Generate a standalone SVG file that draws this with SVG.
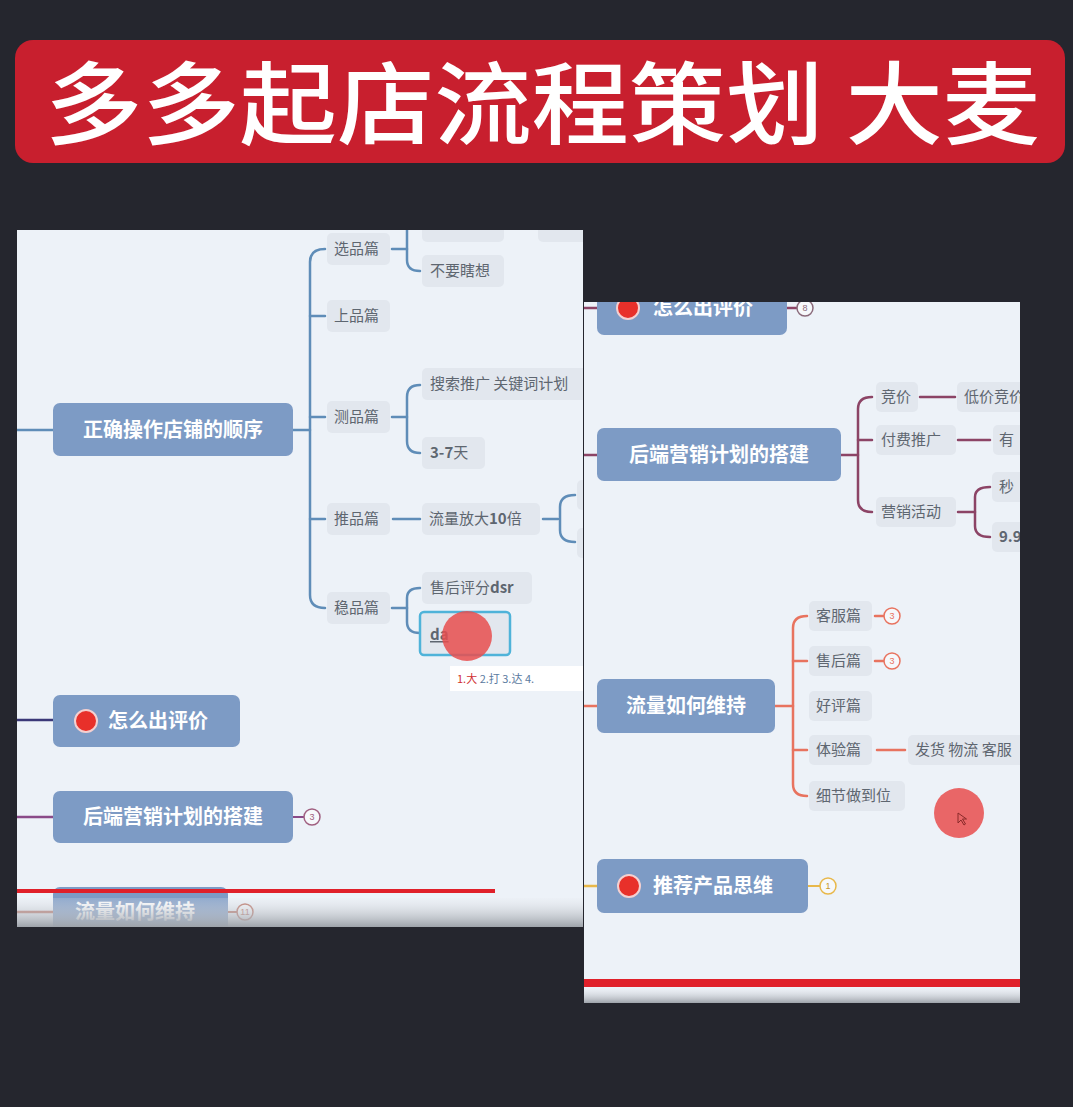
<svg xmlns="http://www.w3.org/2000/svg" width="1073" height="1107" viewBox="0 0 1073 1107">
<defs>
<style>
.bg{fill:#25262e}
.panel{fill:#edf2f8}
.node{fill:#7d9bc5}
.ntext{font-family:"Noto Sans CJK SC","Noto Sans",sans-serif;font-size:20px;font-weight:bold;fill:#ffffff}
.sub{fill:#e2e7ee}
.stext{font-family:"Noto Sans CJK SC","Noto Sans",sans-serif;font-size:15px;fill:#5e6670}
.cb{fill:none;stroke:#5f8db8;stroke-width:2.5;stroke-linecap:round}
.cm{fill:none;stroke:#8c4466;stroke-width:2.5;stroke-linecap:round}
.cs{fill:none;stroke:#e8735f;stroke-width:2.5;stroke-linecap:round}
.dot{fill:#e8302a;stroke:#f4d0d0;stroke-width:2}
.badge{fill:#f6f8fb;stroke-width:1.5}
.btext{font-family:"Liberation Sans",sans-serif;font-size:9px;text-anchor:middle}
</style>
<clipPath id="clipL"><rect x="17" y="230" width="566" height="697"/></clipPath>
<clipPath id="clipR"><rect x="584" y="302" width="436" height="701"/></clipPath>
<linearGradient id="strip" x1="0" y1="0" x2="0" y2="1">
<stop offset="0" stop-color="#e6e9ee" stop-opacity="0.2"/>
<stop offset="1" stop-color="#9ea3aa"/>
</linearGradient>
</defs>
<rect class="bg" x="0" y="0" width="1073" height="1107"/>

<g id="title">
<rect x="15" y="40" width="1050" height="123" rx="18" fill="#c81f2e"/>
<text x="45" y="137" font-family="Noto Sans CJK SC,Noto Sans,sans-serif" font-size="90" font-weight="500" fill="#ffffff" textLength="995" lengthAdjust="spacingAndGlyphs">多多起店流程策划 大麦</text>
</g>

<g id="left-panel" clip-path="url(#clipL)">
<rect class="panel" x="17" y="230" width="566" height="697"/>
<g id="left-connectors">
<path class="cb" d="M17 430 H53"/>
<path class="cb" d="M293 430 H310"/>
<path class="cb" d="M325 249 Q310 249 310 262 V595 Q310 608 325 608"/>
<path class="cb" d="M310 316 Q312 316 325 316"/>
<path class="cb" d="M310 417 H325"/>
<path class="cb" d="M310 519 H325"/>
<path class="cb" d="M392 249 H407"/>
<path class="cb" d="M407 225 V260 Q407 271 420 271"/>
<path class="cb" d="M392 417 H407"/>
<path class="cb" d="M420 385 Q407 385 407 397 V441 Q407 453 420 453"/>
<path class="cb" d="M393 519 H420"/>
<path class="cb" d="M543 519 H558"/>
<path class="cb" d="M575 495 Q560 495 560 507 V530 Q560 542 575 542"/>
<path class="cb" d="M392 608 H407"/>
<path class="cb" d="M420 588 Q407 588 407 598 V622 Q407 633 420 633"/>
<path d="M17 720 H53" stroke="#3b3878" stroke-width="2.5"/>
<path d="M17 817 H53" stroke="#8a4a88" stroke-width="2.5"/>
<path d="M293 817 H304" stroke="#8a4a88" stroke-width="2"/>
<path d="M17 912 H53" stroke="#b86a5a" stroke-width="2.5"/>
<path d="M228 912 H237" stroke="#b86a5a" stroke-width="2"/>
</g>
<g id="n-order"><rect class="node" x="53" y="403" width="240" height="53" rx="7"/><text class="ntext" x="173" y="437" text-anchor="middle">正确操作店铺的顺序</text></g>
<g id="n-top-cut"><rect class="sub" x="422" y="212" width="82" height="30" rx="5"/><rect class="sub" x="538" y="212" width="50" height="30" rx="5"/></g>
<g id="n-xuanpin"><rect class="sub" x="327" y="233" width="63" height="32" rx="5"/><text class="stext" x="334" y="254">选品篇</text></g>
<g id="n-buyao"><rect class="sub" x="422" y="255" width="82" height="32" rx="5"/><text class="stext" x="430" y="276">不要瞎想</text></g>
<g id="n-shangpin"><rect class="sub" x="327" y="300" width="63" height="32" rx="5"/><text class="stext" x="334" y="321">上品篇</text></g>
<g id="n-cepin"><rect class="sub" x="327" y="401" width="63" height="32" rx="5"/><text class="stext" x="334" y="422">测品篇</text></g>
<g id="n-sousuo"><rect class="sub" x="422" y="368" width="170" height="32" rx="5"/><text class="stext" x="430" y="389">搜索推广 关键词计划</text></g>
<g id="n-37"><rect class="sub" x="422" y="437" width="63" height="32" rx="5"/><text class="stext" x="430" y="458"><tspan font-weight="bold">3-7</tspan>天</text></g>
<g id="n-tuipin"><rect class="sub" x="327" y="503" width="63" height="32" rx="5"/><text class="stext" x="334" y="524">推品篇</text></g>
<g id="n-liuliang10"><rect class="sub" x="422" y="503" width="118" height="32" rx="5"/><text class="stext" x="429" y="524">流量放大<tspan font-weight="bold">10</tspan>倍</text></g>
<g id="n-cut2"><rect class="sub" x="577" y="480" width="30" height="30" rx="5"/><rect class="sub" x="577" y="528" width="30" height="30" rx="5"/></g>
<g id="n-wenpin"><rect class="sub" x="327" y="592" width="63" height="32" rx="5"/><text class="stext" x="334" y="613">稳品篇</text></g>
<g id="n-dsr"><rect class="sub" x="422" y="572" width="110" height="32" rx="5"/><text class="stext" x="430" y="593">售后评分<tspan font-weight="bold">dsr</tspan></text></g>
<g id="n-da"><rect x="420" y="612" width="90" height="43" rx="4" fill="#e2e7ee" stroke="#4fb3d9" stroke-width="2.5"/><text class="stext" x="430" y="640" font-weight="bold" fill="#444" text-decoration="underline">da</text></g>
<g id="cursor1"><circle cx="467" cy="636" r="25" fill="#e84d4d" fill-opacity="0.85"/></g>
<g id="ime"><rect x="450" y="666" width="140" height="25" fill="#ffffff"/><text x="457" y="683" font-family="Noto Sans CJK SC,sans-serif" font-size="11" fill="#5a7aa0"><tspan fill="#d03030">1.大</tspan> 2.打 3.达 4.</text></g>
<g id="n-pingjia"><rect class="node" x="53" y="695" width="187" height="52" rx="7"/><circle class="dot" cx="86" cy="721" r="11"/><text class="ntext" x="108" y="728">怎么出评价</text></g>
<g id="n-houduan"><rect class="node" x="53" y="791" width="240" height="52" rx="7"/><text class="ntext" x="173" y="824" text-anchor="middle">后端营销计划的搭建</text></g>
<g id="b-houduan"><circle class="badge" cx="312" cy="817" r="8" stroke="#a06080"/><text class="btext" x="312" y="820" fill="#a06080">3</text></g>
<g id="n-weichi-l"><rect class="node" x="53" y="887" width="175" height="52" rx="7"/><text class="ntext" x="75" y="919">流量如何维持</text></g>
<g id="b-weichi-l"><circle class="badge" cx="245" cy="912" r="8" stroke="#b86a5a"/><text class="btext" x="245" y="915" fill="#b86a5a">11</text></g>
<rect x="17" y="898" width="566" height="29" fill="url(#strip)"/>
<path d="M17 891 H495" stroke="#e0202a" stroke-width="4"/>
</g>

<g id="right-panel" clip-path="url(#clipR)">
<rect class="panel" x="584" y="302" width="436" height="701"/>
<g id="right-connectors">
<path class="cm" d="M584 308 H597"/>
<path class="cm" d="M787 308 H797"/>
<path d="M584 455 H597" stroke="#8c4466" stroke-width="2.5"/>
<path class="cm" d="M841 455 H858"/>
<path class="cm" d="M872 397 Q858 397 858 409 V500 Q858 512 872 512"/>
<path class="cm" d="M858 440 H872"/>
<path class="cm" d="M920 397 H955"/>
<path class="cm" d="M958 440 H990"/>
<path class="cm" d="M958 512 H975"/>
<path class="cm" d="M990 487 Q975 487 975 497 V526 Q975 537 990 537"/>
<path d="M584 706 H597" stroke="#e8735f" stroke-width="2.5"/>
<path class="cs" d="M775 706 H793"/>
<path class="cs" d="M807 616 Q793 616 793 628 V784 Q793 796 807 796"/>
<path class="cs" d="M793 661 H807"/>
<path class="cs" d="M793 750 H807"/>
<path class="cs" d="M875 616 H884"/>
<path class="cs" d="M875 661 H884"/>
<path class="cs" d="M877 750 H905"/>
<path d="M584 886 H597" stroke="#e8b84a" stroke-width="2.5"/>
<path d="M808 886 H820" stroke="#e8b84a" stroke-width="2"/>
</g>
<g id="r-pingjia"><rect class="node" x="597" y="282" width="190" height="53" rx="7"/><circle class="dot" cx="628" cy="308" r="11"/><text class="ntext" x="653" y="315">怎么出评价</text></g>
<g id="rb-pingjia"><circle class="badge" cx="805" cy="308" r="8" stroke="#8a6a7a"/><text class="btext" x="805" y="311" fill="#8a6a7a">8</text></g>
<g id="r-houduan"><rect class="node" x="597" y="428" width="244" height="53" rx="7"/><text class="ntext" x="719" y="462" text-anchor="middle">后端营销计划的搭建</text></g>
<g id="r-jingjia"><rect class="sub" x="876" y="382" width="42" height="30" rx="5"/><text class="stext" x="881" y="402">竞价</text></g>
<g id="r-dijia"><rect class="sub" x="957" y="382" width="80" height="30" rx="5"/><text class="stext" x="964" y="402">低价竞价</text></g>
<g id="r-fufei"><rect class="sub" x="876" y="425" width="80" height="30" rx="5"/><text class="stext" x="881" y="445">付费推广</text></g>
<g id="r-you"><rect class="sub" x="993" y="425" width="50" height="30" rx="5"/><text class="stext" x="999" y="445">有</text></g>
<g id="r-yingxiao"><rect class="sub" x="876" y="497" width="80" height="30" rx="5"/><text class="stext" x="881" y="517">营销活动</text></g>
<g id="r-miao"><rect class="sub" x="992" y="472" width="50" height="30" rx="5"/><text class="stext" x="999" y="492">秒</text></g>
<g id="r-99"><rect class="sub" x="992" y="522" width="50" height="30" rx="5"/><text class="stext" x="999" y="542" font-weight="bold">9.9</text></g>
<g id="r-weichi"><rect class="node" x="597" y="679" width="178" height="54" rx="7"/><text class="ntext" x="686" y="713" text-anchor="middle">流量如何维持</text></g>
<g id="r-kefu"><rect class="sub" x="809" y="601" width="63" height="30" rx="5"/><text class="stext" x="816" y="621">客服篇</text></g>
<g id="rb-kefu"><circle class="badge" cx="892" cy="616" r="8" stroke="#e8735f"/><text class="btext" x="892" y="619" fill="#e8735f">3</text></g>
<g id="r-shouhou"><rect class="sub" x="809" y="646" width="63" height="30" rx="5"/><text class="stext" x="816" y="666">售后篇</text></g>
<g id="rb-shouhou"><circle class="badge" cx="892" cy="661" r="8" stroke="#e8735f"/><text class="btext" x="892" y="664" fill="#e8735f">3</text></g>
<g id="r-haoping"><rect class="sub" x="809" y="691" width="63" height="30" rx="5"/><text class="stext" x="816" y="711">好评篇</text></g>
<g id="r-tiyan"><rect class="sub" x="809" y="735" width="63" height="30" rx="5"/><text class="stext" x="816" y="755">体验篇</text></g>
<g id="r-fahuo"><rect class="sub" x="908" y="735" width="130" height="30" rx="5"/><text class="stext" x="915" y="755">发货 物流 客服</text></g>
<g id="r-xijie"><rect class="sub" x="809" y="781" width="96" height="30" rx="5"/><text class="stext" x="816" y="801">细节做到位</text></g>
<g id="cursor2"><circle cx="959" cy="813" r="25" fill="#e84d4d" fill-opacity="0.85"/><path d="M958 813 l0 10 l3 -3 l3 5 l1.5 -1 l-3 -5 l4 0 z" fill="none" stroke="#8a2a2a" stroke-width="1"/></g>
<g id="r-tuijian"><rect class="node" x="597" y="859" width="211" height="54" rx="7"/><circle class="dot" cx="629" cy="886" r="11"/><text class="ntext" x="653" y="893">推荐产品思维</text></g>
<g id="rb-tuijian"><circle class="badge" cx="828" cy="886" r="8" stroke="#e8b84a"/><text class="btext" x="828" y="889" fill="#c8982a">1</text></g>
<rect x="584" y="988" width="436" height="15" fill="url(#strip)"/>
<path d="M584 983 H1020" stroke="#e0202a" stroke-width="8"/>
</g>
</svg>
